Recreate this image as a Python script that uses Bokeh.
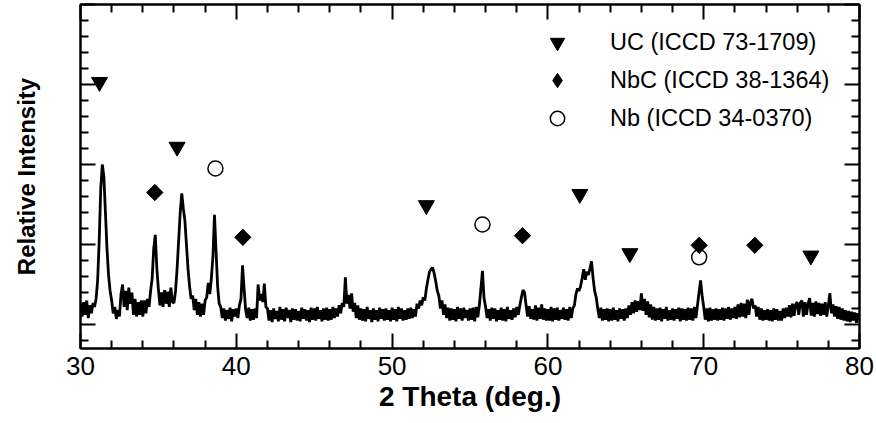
from bokeh.plotting import figure
from bokeh.models import Range1d, FixedTicker, LinearAxis, Legend, LegendItem
from bokeh.embed import file_html
from bokeh.resources import INLINE

# ---------------- data ----------------
theta_start = 30.0
theta_step = 0.1
intensity = [
    0.26, 0.10, 0.28, 0.12, 0.30, 0.08, 0.24, 0.14, 0.27, 0.22,  # 30
    0.32, 0.55, 1.05, 1.70, 2.00, 1.85, 1.40, 0.95, 0.62, 0.42,  # 31
    0.30, 0.14, 0.22, 0.07, 0.18, 0.10, 0.38, 0.50, 0.22, 0.42,  # 32
    0.18, 0.46, 0.26, 0.40, 0.12, 0.32, 0.10, 0.28, 0.12, 0.30,  # 33
    0.10, 0.30, 0.14, 0.32, 0.22, 0.42, 0.58, 0.95, 1.12, 0.70,  # 34
    0.44, 0.24, 0.40, 0.22, 0.43, 0.26, 0.41, 0.22, 0.46, 0.28,  # 35
    0.27, 0.42, 0.70, 1.05, 1.40, 1.64, 1.45, 1.30, 1.00, 0.70,  # 36
    0.48, 0.32, 0.36, 0.18, 0.32, 0.12, 0.28, 0.10, 0.26, 0.12,  # 37
    0.30, 0.34, 0.52, 0.38, 0.58, 0.85, 1.37, 0.92, 0.48, 0.26,  # 38
    0.22, 0.08, 0.20, 0.05, 0.18, 0.07, 0.21, 0.04, 0.19, 0.10,  # 39
    0.20, 0.08, 0.24, 0.32, 0.74, 0.45, 0.18, 0.08, 0.21, 0.05,  # 40
    0.19, 0.06, 0.20, 0.08, 0.50, 0.30, 0.38, 0.28, 0.51, 0.22,  # 41
    0.20, 0.05, 0.18, 0.03, 0.20, 0.07, 0.17, 0.04, 0.22, 0.06,  # 42
    0.19, 0.04, 0.21, 0.08, 0.18, 0.03, 0.20, 0.06, 0.19, 0.05,  # 43
    0.17, 0.04, 0.21, 0.07, 0.19, 0.05, 0.18, 0.03, 0.21, 0.06,  # 44
    0.20, 0.05, 0.22, 0.07, 0.18, 0.04, 0.20, 0.06, 0.21, 0.05,  # 45
    0.19, 0.06, 0.22, 0.08, 0.20, 0.10, 0.24, 0.14, 0.27, 0.22,  # 46
    0.59, 0.26, 0.37, 0.20, 0.39, 0.16, 0.27, 0.08, 0.24, 0.06,  # 47
    0.20, 0.05, 0.19, 0.04, 0.22, 0.07, 0.18, 0.03, 0.20, 0.06,  # 48
    0.18, 0.04, 0.21, 0.07, 0.19, 0.05, 0.20, 0.06, 0.18, 0.04,  # 49
    0.21, 0.06, 0.19, 0.04, 0.22, 0.07, 0.20, 0.05, 0.18, 0.06,  # 50
    0.20, 0.07, 0.21, 0.08, 0.19, 0.10, 0.26, 0.20, 0.30, 0.24,  # 51
    0.34, 0.30, 0.45, 0.56, 0.66, 0.69, 0.71, 0.64, 0.54, 0.42,  # 52
    0.36, 0.20, 0.30, 0.12, 0.25, 0.08, 0.21, 0.05, 0.20, 0.06,  # 53
    0.19, 0.04, 0.22, 0.07, 0.20, 0.05, 0.21, 0.08, 0.18, 0.05,  # 54
    0.20, 0.06, 0.21, 0.04, 0.22, 0.09, 0.24, 0.45, 0.67, 0.33,  # 55
    0.22, 0.08, 0.19, 0.05, 0.21, 0.07, 0.20, 0.04, 0.18, 0.06,  # 56
    0.21, 0.05, 0.19, 0.04, 0.22, 0.07, 0.18, 0.06, 0.20, 0.09,  # 57
    0.22, 0.12, 0.24, 0.34, 0.43, 0.40, 0.24, 0.10, 0.23, 0.07,  # 58
    0.19, 0.06, 0.24, 0.05, 0.21, 0.07, 0.25, 0.06, 0.20, 0.05,  # 59
    0.19, 0.05, 0.22, 0.04, 0.20, 0.06, 0.21, 0.05, 0.18, 0.07,  # 60
    0.21, 0.06, 0.19, 0.05, 0.22, 0.08, 0.20, 0.24, 0.38, 0.45,  # 61
    0.42, 0.48, 0.58, 0.69, 0.56, 0.66, 0.62, 0.70, 0.79, 0.58,  # 62
    0.42, 0.34, 0.20, 0.08, 0.21, 0.05, 0.19, 0.06, 0.20, 0.04,  # 63
    0.19, 0.05, 0.21, 0.06, 0.18, 0.04, 0.20, 0.07, 0.19, 0.05,  # 64
    0.20, 0.08, 0.24, 0.12, 0.28, 0.14, 0.30, 0.16, 0.29, 0.18,  # 65
    0.39, 0.17, 0.32, 0.12, 0.29, 0.09, 0.25, 0.06, 0.22, 0.05,  # 66
    0.20, 0.06, 0.21, 0.04, 0.19, 0.07, 0.22, 0.05, 0.18, 0.06,  # 67
    0.20, 0.05, 0.19, 0.07, 0.21, 0.04, 0.20, 0.06, 0.19, 0.05,  # 68
    0.21, 0.06, 0.20, 0.05, 0.22, 0.08, 0.24, 0.40, 0.55, 0.36,  # 69
    0.22, 0.06, 0.20, 0.04, 0.21, 0.05, 0.19, 0.06, 0.20, 0.05,  # 70
    0.19, 0.06, 0.21, 0.05, 0.20, 0.07, 0.22, 0.06, 0.20, 0.08,  # 71
    0.22, 0.07, 0.25, 0.09, 0.27, 0.10, 0.26, 0.08, 0.31, 0.12,  # 72
    0.28, 0.32, 0.20, 0.24, 0.10, 0.22, 0.06, 0.20, 0.05, 0.18,  # 73
    0.06, 0.19, 0.05, 0.18, 0.04, 0.20, 0.06, 0.19, 0.05, 0.17,  # 74
    0.05, 0.20, 0.08, 0.21, 0.10, 0.24, 0.09, 0.26, 0.11, 0.25,  # 75
    0.28, 0.12, 0.27, 0.30, 0.10, 0.28, 0.12, 0.26, 0.33, 0.11,  # 76
    0.27, 0.10, 0.29, 0.13, 0.27, 0.11, 0.26, 0.12, 0.28, 0.10,  # 77
    0.24, 0.39, 0.14, 0.25, 0.10, 0.23, 0.07, 0.22, 0.06, 0.20,  # 78
    0.05, 0.18, 0.04, 0.17, 0.03, 0.16, 0.05, 0.15, 0.02, 0.14,  # 79
    0.06,                                                        # 80
]
two_theta = [round(theta_start + i * theta_step, 2) for i in range(len(intensity))]

uc_x = [31.22, 36.2, 52.2, 62.05, 65.26, 76.88]
uc_y = [3.03, 2.22, 1.49, 1.63, 0.89, 0.86]
nbc_x = [34.77, 40.42, 58.37, 69.71, 73.28]
nbc_y = [1.65, 1.09, 1.11, 0.99, 0.99]
nb_x = [38.66, 55.8, 69.71]
nb_y = [1.95, 1.25, 0.84]

legend_labels = ["UC (ICCD 73-1709)", "NbC (ICCD 38-1364)", "Nb (ICCD 34-0370)"]
x_major = [30, 40, 50, 60, 70, 80]
x_minor = [32, 34, 36, 38, 42, 44, 46, 48, 52, 54, 56, 58, 62, 64, 66, 68, 72, 74, 76, 78]
y_major = [0, 1, 2, 3, 4]
y_minor = [-0.2, 0.2, 0.4, 0.6, 0.8, 1.2, 1.4, 1.6, 1.8, 2.2, 2.4, 2.6, 2.8, 3.2, 3.4, 3.6, 3.8]

FONT = "Liberation Sans"

# ---------------- figure ----------------
p = figure(width=876, height=423, output_backend="svg", toolbar_location=None,
           x_range=Range1d(30, 80), y_range=Range1d(-0.3, 4.0),
           min_border_left=80, min_border_right=17, min_border_top=4, min_border_bottom=75)
p.grid.visible = False
p.outline_line_color = "black"
p.outline_line_width = 2
p.background_fill_color = "white"
p.border_fill_color = "white"


def style_axis(ax):
    ax.major_tick_in = 15
    ax.major_tick_out = 0
    ax.minor_tick_in = 8
    ax.minor_tick_out = 0
    ax.major_tick_line_width = 2
    ax.minor_tick_line_width = 2
    ax.axis_line_width = 2
    ax.axis_line_color = "black"
    ax.major_tick_line_color = "black"
    ax.minor_tick_line_color = "black"


xt = FixedTicker(ticks=x_major, minor_ticks=x_minor)
yt = FixedTicker(ticks=y_major, minor_ticks=y_minor)

xa = p.xaxis[0]
xa.ticker = xt
style_axis(xa)
xa.major_label_text_font = FONT
xa.major_label_text_font_size = "26px"
xa.major_label_text_color = "black"
xa.major_label_standoff = 8
xa.axis_label = "2 Theta (deg.)"
xa.axis_label_text_font = FONT
xa.axis_label_text_font_style = "bold"
xa.axis_label_text_font_size = "28px"
xa.axis_label_text_color = "black"
xa.axis_label_standoff = 3

ya = p.yaxis[0]
ya.ticker = yt
style_axis(ya)
ya.major_label_text_font_size = "0px"
ya.major_label_standoff = 0
ya.axis_label = "Relative Intensity"
ya.axis_label_text_font = FONT
ya.axis_label_text_font_style = "bold"
ya.axis_label_text_font_size = "24px"
ya.axis_label_text_color = "black"
ya.axis_label_standoff = 41

top = LinearAxis(ticker=xt, major_label_text_font_size="0px", major_label_standoff=0)
style_axis(top)
p.add_layout(top, "above")
right = LinearAxis(ticker=yt, major_label_text_font_size="0px", major_label_standoff=0)
style_axis(right)
p.add_layout(right, "right")

# ---------------- glyphs ----------------
p.line(two_theta, intensity, line_color="black", line_width=2.8)

r_nb = p.scatter(nb_x, nb_y, marker="circle", size=15, fill_color="white",
                 line_color="black", line_width=1.5)
r_uc = p.scatter(uc_x, uc_y, marker="inverted_triangle", size=16, fill_color="black",
                 line_color="black")
# diamond key glyph (fully hidden under the rotated squares drawn on top of it;
# legends ignore marker angle, so this one supplies the legend's diamond)
r_nbc_key = p.scatter(nbc_x, nbc_y, marker="diamond", size=15, fill_color="black",
                      line_color="black")
p.scatter(nbc_x, nbc_y, marker="square", size=11.5, angle=0.7853981634,
          fill_color="black", line_color="black")

legend = Legend(items=[LegendItem(label=legend_labels[0], renderers=[r_uc]),
                       LegendItem(label=legend_labels[1], renderers=[r_nbc_key]),
                       LegendItem(label=legend_labels[2], renderers=[r_nb])],
                location=(459, 212), glyph_width=36, glyph_height=36, spacing=2,
                padding=0, margin=0, label_standoff=35,
                label_text_font=FONT, label_text_font_size="23.5px",
                label_text_color="black",
                border_line_color=None, background_fill_alpha=0)
p.add_layout(legend)

open("out.html", "w").write(file_html(p, INLINE))
